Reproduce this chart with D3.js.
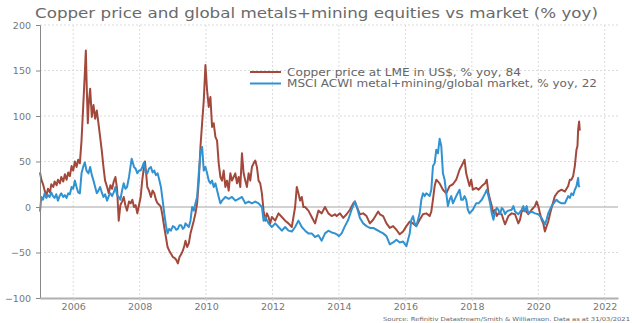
<!DOCTYPE html>
<html><head><meta charset="utf-8">
<script src="https://cdn.jsdelivr.net/npm/d3@7"></script>
<style>body{margin:0;background:#fff}svg{display:block}</style>
</head><body><svg id="c" width="632" height="323"></svg>
<script>
const titleText = "Copper price and global metals+mining equities vs market (% yoy)";
const seriesNames = ["Copper price at LME in US$, % yoy, 84", "MSCI ACWI metal+mining/global market, % yoy, 22"];
const sourceText = "Source: Refinitiv Datastream/Smith & Williamson. Data as at 31/03/2021";
const xTicks = [2006, 2008, 2010, 2012, 2014, 2016, 2018, 2020, 2022];
const yTicks = [-100, -50, 0, 50, 100, 150, 200];

const copper = [
[2005.00,38],[2005.04,30],[2005.10,24],[2005.14,18],[2005.19,12],[2005.24,20],[2005.30,16],[2005.34,25],[2005.40,22],[2005.44,28],
[2005.50,24],[2005.54,30],[2005.60,26],[2005.64,33],[2005.70,28],[2005.75,36],[2005.80,30],[2005.85,38],[2005.90,34],[2005.95,45],
[2006.00,40],[2006.05,50],[2006.10,44],[2006.15,52],[2006.20,48],[2006.25,73],[2006.30,110],[2006.34,140],[2006.38,172],[2006.41,128],
[2006.44,92],[2006.46,110],[2006.51,130],[2006.56,99],[2006.61,112],[2006.66,97],[2006.71,106],[2006.76,92],[2006.81,77],[2006.86,62],
[2006.91,44],[2006.96,29],[2007.02,22],[2007.07,15],[2007.12,24],[2007.17,20],[2007.22,28],[2007.27,33],[2007.32,20],[2007.37,-15],
[2007.42,2],[2007.47,6],[2007.52,11],[2007.57,2],[2007.62,-4],[2007.68,6],[2007.73,4],[2007.78,8],[2007.83,0],[2007.88,2],
[2007.93,-7],[2007.98,2],[2008.03,11],[2008.08,30],[2008.13,44],[2008.16,50],[2008.20,35],[2008.23,22],[2008.28,18],[2008.34,11],
[2008.39,18],[2008.44,15],[2008.49,8],[2008.54,4],[2008.60,2],[2008.64,0],[2008.69,-10],[2008.74,-22],[2008.79,-33],[2008.84,-44],
[2008.89,-48],[2008.94,-51],[2009.00,-55],[2009.05,-56],[2009.10,-58],[2009.15,-62],[2009.20,-55],[2009.25,-52],[2009.30,-48],[2009.35,-42],
[2009.38,-37],[2009.43,-44],[2009.48,-40],[2009.53,-29],[2009.58,-22],[2009.63,-15],[2009.68,-7],[2009.73,4],[2009.78,29],[2009.83,66],
[2009.88,92],[2009.93,117],[2009.98,156],[2010.03,128],[2010.08,110],[2010.13,121],[2010.18,88],[2010.23,92],[2010.28,77],[2010.33,73],
[2010.38,48],[2010.43,33],[2010.48,29],[2010.53,40],[2010.58,22],[2010.63,29],[2010.68,18],[2010.73,37],[2010.78,29],[2010.83,33],
[2010.88,37],[2010.93,26],[2010.98,33],[2011.03,22],[2011.08,59],[2011.13,37],[2011.18,29],[2011.23,22],[2011.28,37],[2011.33,29],
[2011.38,44],[2011.43,48],[2011.48,51],[2011.53,44],[2011.58,29],[2011.63,26],[2011.68,15],[2011.73,-4],[2011.78,-15],[2011.83,-7],
[2011.88,-11],[2011.93,-18],[2011.98,-11],[2012.08,-15],[2012.18,-7],[2012.28,-11],[2012.38,-15],[2012.48,-18],[2012.58,-22],[2012.68,0],
[2012.73,22],[2012.78,15],[2012.83,7],[2012.88,11],[2012.93,0],[2012.98,0],[2013.08,-4],[2013.18,-11],[2013.28,-18],[2013.38,-4],
[2013.48,-7],[2013.58,0],[2013.68,-7],[2013.78,-10],[2013.88,-8],[2013.93,-10],[2014.03,-7],[2014.13,-12],[2014.23,-8],[2014.33,-3],
[2014.43,4],[2014.48,6],[2014.53,1],[2014.63,-8],[2014.73,-7],[2014.83,-10],[2014.93,-18],[2015.03,-14],[2015.18,-5],[2015.23,-8],
[2015.33,-10],[2015.43,-18],[2015.53,-23],[2015.63,-21],[2015.73,-25],[2015.83,-30],[2015.93,-27],[2016.03,-21],[2016.13,-16],[2016.23,-18],
[2016.33,-21],[2016.43,-14],[2016.53,-8],[2016.63,-7],[2016.73,-10],[2016.78,-5],[2016.83,8],[2016.88,23],[2016.93,30],[2017.03,26],
[2017.13,19],[2017.23,15],[2017.33,23],[2017.43,25],[2017.53,30],[2017.63,41],[2017.73,48],[2017.78,52],[2017.83,37],[2017.88,30],
[2017.93,23],[2017.98,30],[2018.03,19],[2018.13,21],[2018.20,19],[2018.30,23],[2018.40,26],[2018.45,30],[2018.50,15],[2018.55,8],
[2018.60,1],[2018.65,-7],[2018.70,-3],[2018.75,-10],[2018.80,-7],[2018.90,-8],[2018.95,-14],[2019.00,-19],[2019.10,-10],[2019.20,-7],
[2019.30,-8],[2019.40,-18],[2019.45,-14],[2019.50,-5],[2019.60,-3],[2019.70,-8],[2019.80,-3],[2019.90,1],[2019.95,6],[2020.00,1],
[2020.05,-7],[2020.10,-14],[2020.15,-18],[2020.20,-27],[2020.25,-21],[2020.30,-16],[2020.35,-8],[2020.40,-1],[2020.50,12],[2020.60,17],
[2020.70,19],[2020.80,17],[2020.90,23],[2020.95,30],[2021.00,30],[2021.05,34],[2021.10,45],[2021.15,63],[2021.18,67],[2021.20,85],
[2021.23,94],[2021.25,84]
];

const msci = [
[2005.00,-5],[2005.02,3],[2005.04,11],[2005.09,8],[2005.14,15],[2005.19,10],[2005.24,13],[2005.29,11],[2005.34,16],[2005.39,12],
[2005.44,10],[2005.49,14],[2005.54,7],[2005.59,12],[2005.64,15],[2005.70,11],[2005.75,13],[2005.80,10],[2005.85,15],[2005.90,14],
[2005.95,22],[2006.00,20],[2006.05,29],[2006.10,22],[2006.15,16],[2006.20,15],[2006.25,37],[2006.30,44],[2006.35,49],[2006.40,40],
[2006.46,37],[2006.51,44],[2006.56,35],[2006.61,29],[2006.66,22],[2006.71,15],[2006.76,18],[2006.81,22],[2006.86,16],[2006.91,11],
[2006.96,14],[2007.02,7],[2007.07,12],[2007.12,15],[2007.17,12],[2007.22,16],[2007.27,22],[2007.32,13],[2007.37,11],[2007.42,8],
[2007.47,18],[2007.52,26],[2007.57,20],[2007.62,22],[2007.68,33],[2007.73,46],[2007.76,53],[2007.83,44],[2007.88,42],[2007.93,37],
[2007.98,40],[2008.03,40],[2008.08,44],[2008.13,49],[2008.18,38],[2008.23,37],[2008.28,42],[2008.34,44],[2008.39,38],[2008.44,40],
[2008.49,35],[2008.54,37],[2008.59,30],[2008.64,22],[2008.69,8],[2008.74,-7],[2008.79,-20],[2008.84,-29],[2008.89,-24],[2008.94,-26],
[2009.00,-21],[2009.05,-22],[2009.10,-25],[2009.15,-24],[2009.20,-20],[2009.25,-20],[2009.30,-24],[2009.35,-22],[2009.38,-18],[2009.48,-22],
[2009.53,-15],[2009.58,0],[2009.63,-4],[2009.68,4],[2009.73,11],[2009.78,37],[2009.83,59],[2009.88,66],[2009.93,40],[2009.98,44],
[2010.03,37],[2010.08,29],[2010.13,26],[2010.18,29],[2010.23,22],[2010.28,26],[2010.38,11],[2010.43,4],[2010.48,7],[2010.58,11],
[2010.68,9],[2010.78,11],[2010.88,7],[2010.98,9],[2011.08,11],[2011.18,4],[2011.28,6],[2011.38,4],[2011.48,6],[2011.58,4],
[2011.68,0],[2011.73,-15],[2011.78,-11],[2011.88,-18],[2011.98,-22],[2012.08,-18],[2012.18,-22],[2012.28,-26],[2012.38,-22],[2012.48,-26],
[2012.58,-27],[2012.68,-22],[2012.78,-15],[2012.88,-22],[2012.98,-26],[2013.08,-29],[2013.18,-29],[2013.28,-33],[2013.38,-31],[2013.48,-37],
[2013.58,-29],[2013.68,-26],[2013.78,-28],[2013.88,-29],[2013.93,-30],[2014.00,-32],[2014.08,-29],[2014.18,-21],[2014.28,-14],[2014.38,-3],
[2014.48,6],[2014.53,1],[2014.63,-12],[2014.73,-18],[2014.83,-21],[2014.93,-23],[2015.03,-23],[2015.13,-25],[2015.23,-27],[2015.33,-29],
[2015.43,-32],[2015.53,-41],[2015.63,-39],[2015.73,-36],[2015.83,-39],[2015.93,-38],[2016.03,-43],[2016.08,-36],[2016.13,-29],[2016.18,-14],
[2016.23,-10],[2016.28,-18],[2016.33,-21],[2016.43,-7],[2016.48,8],[2016.53,15],[2016.58,12],[2016.63,15],[2016.73,12],[2016.78,19],
[2016.83,45],[2016.88,48],[2016.93,63],[2016.98,59],[2017.03,75],[2017.08,67],[2017.13,37],[2017.18,30],[2017.23,15],[2017.28,1],
[2017.33,8],[2017.38,12],[2017.43,4],[2017.53,12],[2017.63,19],[2017.68,8],[2017.73,8],[2017.78,12],[2017.83,8],[2017.88,-3],
[2017.93,-7],[2018.03,-3],[2018.13,4],[2018.20,4],[2018.30,8],[2018.40,15],[2018.45,19],[2018.50,12],[2018.55,4],[2018.60,-7],
[2018.65,-14],[2018.70,-5],[2018.75,-1],[2018.80,-3],[2018.85,-8],[2018.90,-1],[2018.95,-3],[2019.00,-8],[2019.05,-5],[2019.10,-4],
[2019.20,-3],[2019.25,1],[2019.30,-5],[2019.40,-8],[2019.50,-3],[2019.55,1],[2019.60,-5],[2019.65,1],[2019.70,-7],[2019.80,-5],
[2019.90,-7],[2020.00,-8],[2020.10,-12],[2020.20,-19],[2020.25,-14],[2020.30,-7],[2020.35,-3],[2020.40,1],[2020.50,6],[2020.55,8],
[2020.60,6],[2020.70,4],[2020.80,4],[2020.85,8],[2020.90,12],[2020.95,10],[2021.00,15],[2021.05,13],[2021.10,19],[2021.15,23],
[2021.20,32],[2021.22,23],[2021.25,22]
];

const colors = ["#A3493C", "#3192D2"];
const svg = d3.select("#c");
const W = 632, H = 323;
const m = {l: 40, r: 14, t: 25, b: 25};
const x = d3.scaleLinear().domain([2005.0, 2022.4]).range([m.l, W - m.r]);
const y = d3.scaleLinear().domain([-100, 200]).range([H - m.b, m.t]);
const font = "'DejaVu Sans', Verdana, sans-serif";

// grid
svg.append("g").selectAll("line").data(yTicks.filter(d => d !== -100 && d !== 0)).join("line")
  .attr("x1", m.l).attr("x2", W - m.r).attr("y1", d => y(d)).attr("y2", d => y(d))
  .attr("stroke", "#dcdcdc").attr("stroke-width", 1).attr("stroke-dasharray", "2,2");
svg.append("g").selectAll("line").data(xTicks).join("line")
  .attr("x1", d => x(d)).attr("x2", d => x(d)).attr("y1", m.t).attr("y2", H - m.b)
  .attr("stroke", "#dcdcdc").attr("stroke-width", 1).attr("stroke-dasharray", "2,2");
// zero line
svg.append("line").attr("x1", m.l).attr("x2", W - m.r).attr("y1", y(0)).attr("y2", y(0))
  .attr("stroke", "#a6a6a6").attr("stroke-width", 1);

// lines
const line = d3.line().x(d => x(d[0])).y(d => y(d[1]));
[copper, msci].forEach((s, i) => {
  svg.append("path").datum(s).attr("d", line).attr("fill", "none")
    .attr("stroke", colors[i]).attr("stroke-width", 2).attr("stroke-linejoin", "round");
});

// axes
const ya = svg.append("g").attr("transform", `translate(${m.l},0)`)
  .call(d3.axisLeft(y).tickValues(yTicks).tickSize(4).tickPadding(5));
ya.select(".domain").attr("stroke", "#888");
ya.selectAll(".tick line").attr("stroke", "#888");
ya.selectAll("text").attr("fill", "#777").style("font-family", font).style("font-size", "9.5px");

const xa = svg.append("g").attr("transform", `translate(0,${H - m.b})`)
  .call(d3.axisBottom(x).tickValues(xTicks).tickFormat(d3.format("d")).tickSize(3).tickSizeOuter(0).tickPadding(2));
xa.select(".domain").attr("stroke", "#b0b0b0").attr("stroke-width", 2);
xa.selectAll(".tick line").attr("stroke", "#d0d0d0");
xa.selectAll("text").attr("fill", "#777").style("font-family", font).style("font-size", "9.5px");

// title
svg.append("text").attr("x", 35).attr("y", 18).text(titleText)
  .attr("textLength", 563).attr("lengthAdjust", "spacingAndGlyphs")
  .attr("fill", "#6a6a6a").style("font-family", font).style("font-size", "14px");

// legend
seriesNames.forEach((n, i) => {
  const yy = 72 + i * 11.5;
  svg.append("line").attr("x1", 250).attr("x2", 281).attr("y1", yy).attr("y2", yy)
    .attr("stroke", colors[i]).attr("stroke-width", 2);
  svg.append("text").attr("x", 287).attr("y", yy + 3.5).text(n)
    .attr("textLength", i === 0 ? 234 : 310).attr("lengthAdjust", "spacingAndGlyphs")
    .attr("fill", "#666").style("font-family", font).style("font-size", "10px");
});

// source
svg.append("text").attr("x", 383).attr("y", 321).text(sourceText)
  .attr("textLength", 247).attr("lengthAdjust", "spacingAndGlyphs")
  .attr("fill", "#666").style("font-family", font).style("font-size", "5.5px");
</script></body></html>
